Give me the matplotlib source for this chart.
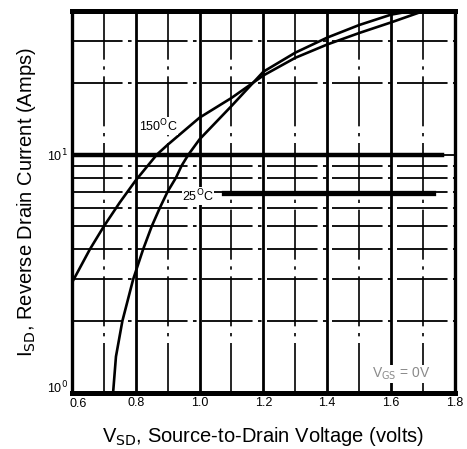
import numpy as np
import matplotlib.pyplot as plt
import matplotlib.transforms as mtransforms

v_150 = [0.60, 0.656, 0.70, 0.75, 0.80, 0.866, 0.90, 1.00, 1.10, 1.20, 1.30, 1.40, 1.50, 1.60, 1.70]
i_150 = [2.9, 4.0, 5.0, 6.3, 7.8, 10.0, 11.0, 14.3, 17.3, 21.5, 25.5, 29.0, 32.4, 35.9, 40.0]

v_25 = [0.729, 0.738, 0.758, 0.792, 0.823, 0.85, 0.876, 0.90, 0.926, 0.944, 0.965, 1.00, 1.10, 1.20, 1.30, 1.40, 1.50, 1.60, 1.66]
i_25 = [1.0, 1.42, 2.0, 3.0, 4.0, 5.0, 6.0, 7.0, 8.0, 9.0, 10.0, 11.6, 16.0, 22.3, 26.8, 31.0, 35.0, 38.7, 40.0]

x_major = [0.8, 1.0, 1.2, 1.4, 1.6]
x_minor = [0.7, 0.9, 1.1, 1.3, 1.5, 1.7]
y_grid = [2, 3, 4, 5, 6, 7, 8, 9, 20, 30]
x_ticks = [0.6, 0.8, 1.0, 1.2, 1.4, 1.6, 1.8]
x_ticklabels = ['0.6', '0.8', '1.0', '1.2', '1.4', '1.6', '1.8']

plt.rcParams['font.family'] = ['Liberation Sans', 'DejaVu Sans']

fig = plt.figure(figsize=(4.67, 4.49), dpi=100)
ax = fig.add_axes([0.154, 0.125, 0.82, 0.85])
ax.set_yscale('log')
ax.set_xlim(0.6, 1.8)
ax.set_ylim(1, 40)

for x in x_major:
    ax.axvline(x, color='black', lw=2.0, zorder=1)
for x in x_minor:
    ax.axvline(x, color='black', lw=1.2, ls=(0, (30, 4, 2, 4)), zorder=1)
for y in y_grid:
    ax.axhline(y, color='black', lw=1.3, ls=(0, (28, 3, 2, 3)), zorder=1)

# heavy rules from the original sheet
ax.axhline(10, color='black', lw=1.3, zorder=1)
ax.plot([0.6, 1.76], [10, 10], color='black', lw=3.2, zorder=2)
ax.plot([1.076, 1.73], [6.9, 6.9], color='black', lw=3.8, zorder=2)

ax.plot(v_150, i_150, color='black', lw=1.9, zorder=3)
ax.plot(v_25, i_25, color='black', lw=1.9, zorder=3)

ax.text(0.81, 13.2, '150$^{\\rm O}$C', fontsize=9, va='center', ha='left',
        bbox=dict(facecolor='white', edgecolor='none', pad=0.3), zorder=4)
ax.text(0.945, 6.7, '25$^{\\rm O}$C', fontsize=9, va='center', ha='left',
        bbox=dict(facecolor='white', edgecolor='none', pad=0.3), zorder=4)
ax.text(1.54, 1.2, 'V$_{\\rm GS}$ = 0V', fontsize=10, color='#8a8a8a', va='center', ha='left',
        bbox=dict(facecolor='white', edgecolor='none', pad=0.5), zorder=4)

for side in ['top', 'bottom']:
    ax.spines[side].set_linewidth(3.6)
for side in ['left', 'right']:
    ax.spines[side].set_linewidth(2.4)

ax.set_xticks(x_ticks)
ax.set_xticklabels(x_ticklabels, fontsize=9)
ax.set_yticks([1, 10])
ax.set_yticklabels(['10$^0$', '10$^1$'], fontsize=9)
ax.yaxis.set_minor_locator(plt.NullLocator())
ax.tick_params(length=0, pad=3)

# nudge the corner labels apart like on the sheet
xl = ax.get_xticklabels()[0]
xl.set_transform(xl.get_transform() + mtransforms.ScaledTranslation(6 / 100, -1 / 100, fig.dpi_scale_trans))
yl = ax.get_yticklabels()[0]
yl.set_transform(yl.get_transform() + mtransforms.ScaledTranslation(0, 6 / 100, fig.dpi_scale_trans))

ax.set_xlabel('V$_{\\rm SD}$, Source-to-Drain Voltage (volts)', fontsize=14.5, labelpad=11)
ax.set_ylabel('I$_{\\rm SD}$, Reverse Drain Current (Amps)', fontsize=14.5, labelpad=6)

fig.savefig('out.png', dpi=100)
